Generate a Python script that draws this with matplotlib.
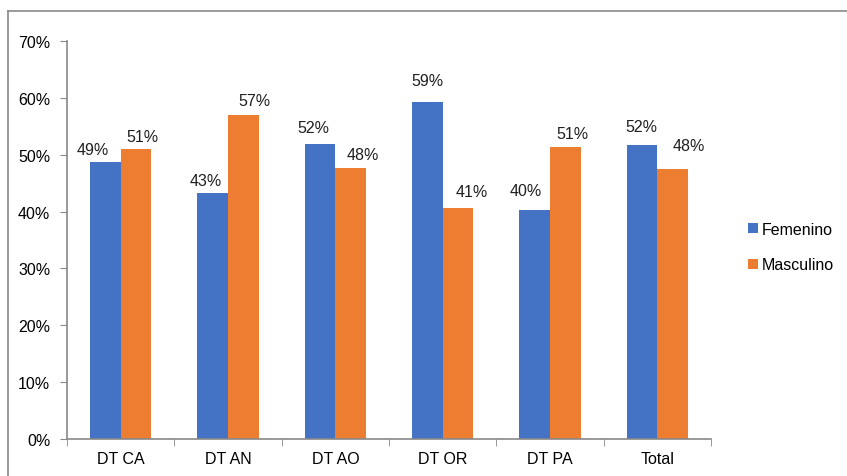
import numpy as np
import matplotlib.pyplot as plt
from matplotlib.lines import Line2D

categories = ['DT CA', 'DT AN', 'DT AO', 'DT OR', 'DT PA', 'Total']
femenino = [48.7, 43.3, 51.9, 59.3, 40.3, 51.7]
masculino = [51.0, 57.0, 47.7, 40.6, 51.3, 47.5]
yticks = [0, 10, 20, 30, 40, 50, 60, 70]

# hand placed label offsets in the original (pixels from bar top centre)
fem_off = [(-13, 13), (-7, 12), (-7, 16), (0, 21), (-9, 19), (-1, 19)]
masc_off = [(6, 13), (11, 14), (12, 13), (14, 17), (7, 14), (16, 23)]

plt.rcParams['font.family'] = ['Liberation Sans', 'DejaVu Sans']
blue = '#4472C4'
orange = '#ED7D31'
grey = '#898989'
fs = 11.5

fig = plt.figure(figsize=(8.47, 4.77), dpi=100)
ax = fig.add_axes([67 / 847, 37 / 477, 644 / 847, 398 / 477])

x = np.arange(len(categories))
w = 0.285
b1 = ax.bar(x - w / 2, femenino, w, color=blue, label='Femenino')
b2 = ax.bar(x + w / 2, masculino, w, color=orange, label='Masculino')

for bars, vals, offs in ((b1, femenino, fem_off), (b2, masculino, masc_off)):
    for r, v, o in zip(bars, vals, offs):
        ax.annotate(f'{v:.0f}%', (r.get_x() + r.get_width() / 2, v),
                    xytext=o, textcoords='offset pixels',
                    ha='center', va='center', fontsize=fs, color='#202020')

ax.set_xlim(-0.5, len(categories) - 0.5)
ax.set_ylim(0, 70)
ax.set_yticks(yticks)
ax.set_yticklabels([f'{t}%' for t in yticks])
ax.set_xticks(x)
ax.set_xticklabels(categories)
ax.set_xticks(np.arange(len(categories) + 1) - 0.5, minor=True)
ax.tick_params(axis='x', which='major', length=0, pad=9, labelsize=fs)
ax.tick_params(axis='x', which='minor', length=5, color=grey, direction='out')
ax.tick_params(axis='y', length=5, color=grey, pad=7, labelsize=fs)

for s in ('top', 'right'):
    ax.spines[s].set_visible(False)
for s in ('left', 'bottom'):
    ax.spines[s].set_color(grey)
    ax.spines[s].set_linewidth(1.2)

ax.legend(loc='center left', bbox_to_anchor=(748 / 847, 1 - 248 / 477),
          bbox_transform=fig.transFigure, frameon=False,
          handlelength=0.6, handleheight=0.6, handletextpad=0.25,
          labelspacing=1.3, fontsize=fs, borderaxespad=0, borderpad=0)

# outer frame
fig.add_artist(Line2D([8 / 847, 1], [1 - 12 / 477, 1 - 12 / 477],
                      transform=fig.transFigure, color='#8a8a8a', lw=1.2))
fig.add_artist(Line2D([8 / 847, 8 / 847], [0, 1 - 12 / 477],
                      transform=fig.transFigure, color='#8a8a8a', lw=1.2))

fig.savefig('out.png', dpi=100)
